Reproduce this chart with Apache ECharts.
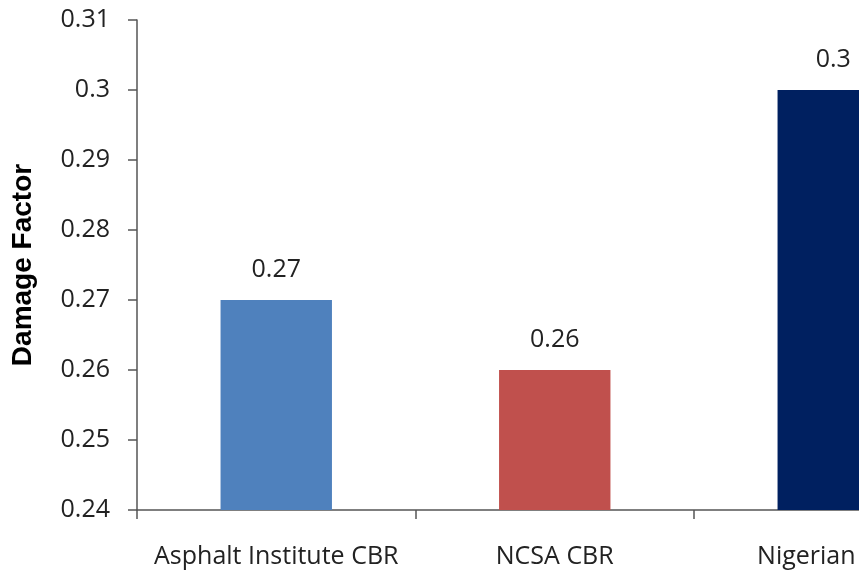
<!DOCTYPE html>
<html>
<head>
<meta charset="utf-8">
<script src="https://cdn.jsdelivr.net/npm/echarts@6/dist/echarts.min.js"></script>
<style>
html,body{margin:0;padding:0;background:#fff;}
#c{width:859px;height:577px;}
</style>
</head>
<body>
<div id="c"></div>
<script>
var categories = ["Asphalt Institute CBR", "NCSA CBR", "Nigerian CBR"];
var values = [0.27, 0.26, 0.30];
var barColors = ["#4F81BD", "#C0504D", "#002060"];
var yTicks = {min: 0.24, max: 0.31, interval: 0.01};

var chart = echarts.init(document.getElementById('c'));
var font = "'Open Sans', sans-serif";
chart.setOption({
  animation: false,
  grid: {left: 137, top: 20, height: 490, width: 835.5, containLabel: false, outerBoundsMode: 'none'},
  xAxis: {
    type: 'category',
    data: categories,
    axisLine: {lineStyle: {color: '#555', width: 1.5}},
    axisTick: {show: true, length: 9, lineStyle: {color: '#555', width: 1.5}},
    axisLabel: {color: '#222', fontSize: 25, fontFamily: font, margin: 34, interval: 0, hideOverlap: false}
  },
  yAxis: {
    type: 'value',
    min: yTicks.min, max: yTicks.max, interval: yTicks.interval,
    name: 'Damage Factor',
    nameLocation: 'middle',
    nameGap: 100,
    nameTextStyle: {fontFamily: "'Liberation Sans', Arial, sans-serif", fontWeight: 'bold', fontSize: 28, color: '#000'},
    axisLine: {show: true, lineStyle: {color: '#555', width: 1.5}},
    axisTick: {show: true, length: 9, lineStyle: {color: '#555', width: 1.5}},
    splitLine: {show: false},
    axisLabel: {color: '#222', fontSize: 25, fontFamily: font, margin: 27}
  },
  series: [{
    type: 'bar',
    barWidth: '40%',
    data: values.map(function (v, i) { return {value: v, itemStyle: {color: barColors[i]}}; }),
    label: {show: true, position: 'top', distance: 18, color: '#222', fontSize: 25, fontFamily: font}
  }]
});
</script>
</body>
</html>
